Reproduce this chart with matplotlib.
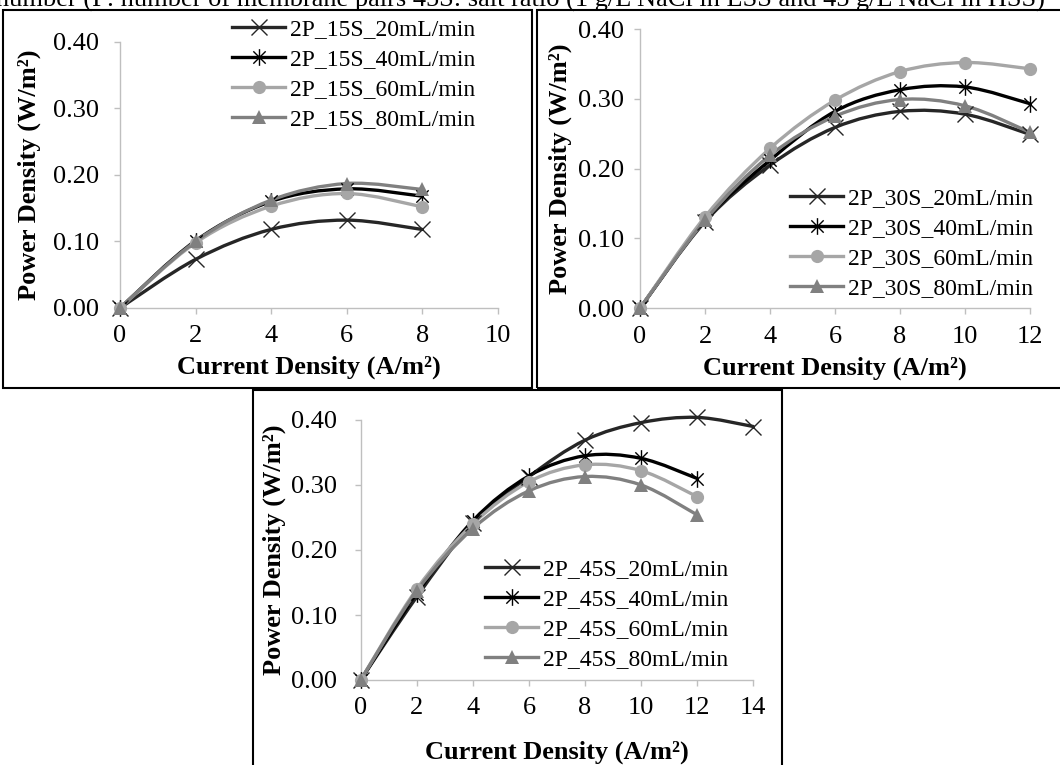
import numpy as np
import matplotlib
matplotlib.use("Agg")
import matplotlib.pyplot as plt
from matplotlib.path import Path
from matplotlib.patches import PathPatch, Rectangle
from matplotlib.lines import Line2D

plt.rcParams['font.family'] = ['Liberation Serif', 'DejaVu Serif']

# ---------------- data ----------------
x15 = [0, 2, 4, 6, 8]
p15_20 = [0.0, 0.073, 0.118, 0.132, 0.118]
p15_40 = [0.0, 0.101, 0.160, 0.179, 0.168]
p15_60 = [0.0, 0.098, 0.153, 0.172, 0.152]
p15_80 = [0.0, 0.100, 0.162, 0.187, 0.178]

x30 = [0, 2, 4, 6, 8, 10, 12]
p30_20 = [0.0, 0.124, 0.205, 0.259, 0.282, 0.278, 0.249]
p30_40 = [0.0, 0.126, 0.212, 0.282, 0.313, 0.317, 0.293]
p30_60 = [0.0, 0.131, 0.229, 0.298, 0.339, 0.352, 0.343]
p30_80 = [0.0, 0.126, 0.219, 0.275, 0.299, 0.290, 0.252]

x45_20 = [0, 2, 4, 6, 8, 10, 12, 14]
x45 = [0, 2, 4, 6, 8, 10, 12]
p45_20 = [0.0, 0.128, 0.241, 0.313, 0.369, 0.396, 0.404, 0.390]
p45_40 = [0.0, 0.133, 0.245, 0.314, 0.345, 0.341, 0.310]
p45_60 = [0.0, 0.140, 0.240, 0.305, 0.331, 0.322, 0.282]
p45_80 = [0.0, 0.137, 0.233, 0.291, 0.313, 0.300, 0.254]

flows = ["20mL/min", "40mL/min", "60mL/min", "80mL/min"]
yticks = [0.0, 0.1, 0.2, 0.3, 0.4]
title_text = "number (P: number of membrane pairs 45S: salt ratio (1 g/L NaCl in LSS and 45 g/L NaCl in HSS)"
xlab = "Current Density (A/m²)"
ylab = "Power Density (W/m²)"

# ---------------- styles ----------------
star = Path([(-1, -1), (1, 1), (-1, 1), (1, -1), (0, -1.35), (0, 1.35)],
            [Path.MOVETO, Path.LINETO, Path.MOVETO, Path.LINETO, Path.MOVETO, Path.LINETO])
styles = [
    dict(color="#262626", marker="x", ms=12, mew=1.0, mfc="none", mec="#262626"),
    dict(color="#000000", marker=star, ms=12, mew=1.0, mfc="none", mec="#000000"),
    dict(color="#A6A6A6", marker="o", ms=9.5, mew=0, mfc="#A6A6A6", mec="#A6A6A6"),
    dict(color="#808080", marker="^", ms=10.5, mew=0, mfc="#808080", mec="#808080"),
]
LW = 2.4
W, H = 1060, 765

fig = plt.figure(figsize=(W / 100, H / 100), dpi=100)


def smooth_path(x, y):
    pts = np.column_stack([x, y]).astype(float)
    n = len(pts)
    verts = [pts[0]]
    codes = [Path.MOVETO]
    for i in range(n - 1):
        p0 = pts[i - 1] if i > 0 else pts[i]
        p1 = pts[i]
        p2 = pts[i + 1]
        p3 = pts[i + 2] if i + 2 < n else pts[i + 1]
        c1 = p1 + (p2 - p0) / 6.0
        c2 = p2 - (p3 - p1) / 6.0
        verts += [c1, c2, p2]
        codes += [Path.CURVE4] * 3
    return Path(verts, codes)


def px_axes(x0, x1, ytop, ybot):
    return fig.add_axes([x0 / W, 1 - ybot / H, (x1 - x0) / W, (ybot - ytop) / H])


def draw_panel(ax, xs_list, ys_list, prefix, xmax, xstep, ylpad, ylx, xly, leg_xy):
    handles = []
    for xs, ys, st, fl in zip(xs_list, ys_list, styles, flows):
        patch = PathPatch(smooth_path(xs, ys), facecolor="none", edgecolor=st["color"],
                          lw=LW, clip_on=False, zorder=3, capstyle="round", joinstyle="round")
        ax.add_patch(patch)
        ax.plot(xs, ys, linestyle="none", marker=st["marker"], ms=st["ms"], mew=st["mew"],
                mfc=st["mfc"], mec=st["mec"], clip_on=False, zorder=4)
        handles.append(Line2D([0], [0], color=st["color"], lw=LW, marker=st["marker"],
                              ms=st["ms"], mew=st["mew"], mfc=st["mfc"], mec=st["mec"],
                              label=prefix + fl))
    ax.set_xlim(0, xmax)
    ax.set_ylim(0, 0.4)
    ax.set_xticks(np.arange(0, xmax + 0.1, xstep))
    ax.set_yticks(yticks)
    ax.set_yticklabels([f"{v:.2f}" for v in yticks])
    for s in ["top", "right"]:
        ax.spines[s].set_visible(False)
    for s in ["left", "bottom"]:
        ax.spines[s].set_color("#BFBFBF")
        ax.spines[s].set_linewidth(1.0)
    ax.tick_params(axis="both", direction="out", length=4, width=1.0, color="#BFBFBF",
                   labelsize=19, labelcolor="black")
    ax.tick_params(axis="x", pad=8.5)
    ax.tick_params(axis="y", pad=ylpad)
    ax.set_facecolor("none")
    ax.set_xlabel(xlab, fontsize=19, fontweight="bold")
    ax.set_ylabel(ylab, fontsize=19, fontweight="bold")
    ax.xaxis.set_label_coords(0.5, xly)
    ax.xaxis.label.set_va("center")
    ax.yaxis.set_label_coords(ylx, 0.5)
    ax.yaxis.label.set_va("center")
    ax.legend(handles=handles, loc="upper left",
              bbox_to_anchor=(leg_xy[0] / W, 1 - leg_xy[1] / H), bbox_transform=fig.transFigure,
              frameon=False, fontsize=17, borderpad=0, borderaxespad=0,
              handlelength=2.25, handletextpad=0.2, labelspacing=0.35)


# panel 1
ax1 = px_axes(120, 497.7, 41.7, 308)
draw_panel(ax1, [x15] * 4, [p15_20, p15_40, p15_60, p15_80], "2P_15S_", 10, 2,
           ylpad=11, ylx=-91 / 377.7, xly=-59 / 266.3, leg_xy=(232, 19))

# panel 2
ax2 = px_axes(640, 1030, 29, 308.3)
draw_panel(ax2, [x30] * 4, [p30_20, p30_40, p30_60, p30_80], "2P_30S_", 12, 2,
           ylpad=7.5, ylx=-80 / 390, xly=-60 / 279.3, leg_xy=(790, 188))

# panel 3
ax3 = px_axes(360.7, 753.3, 420, 680)
draw_panel(ax3, [x45_20, x45, x45, x45], [p45_20, p45_40, p45_60, p45_80], "2P_45S_", 14, 2,
           ylpad=13, ylx=-86 / 392.6, xly=-72 / 260, leg_xy=(485, 559))

# panel frames
for (x0, y0, x1, y1) in [(3, 10, 532, 388), (537, 10, 1063, 388), (253, 390, 782, 768)]:
    fig.add_artist(Rectangle((x0 / W, 1 - y1 / H), (x1 - x0) / W, (y1 - y0) / H,
                             transform=fig.transFigure, fill=False, edgecolor="black",
                             lw=1.5, zorder=10))

# cropped caption line at top (cut by the image edge, as in the source figure)
t = fig.text(-4 / W, 1 - 7 / H, title_text, fontsize=18, va="baseline", ha="left")
fig.canvas.draw()
ext = t.get_window_extent(fig.canvas.get_renderer())
t.set_fontsize(18 * 1049 / ext.width)

fig.savefig("out.png", dpi=100)
